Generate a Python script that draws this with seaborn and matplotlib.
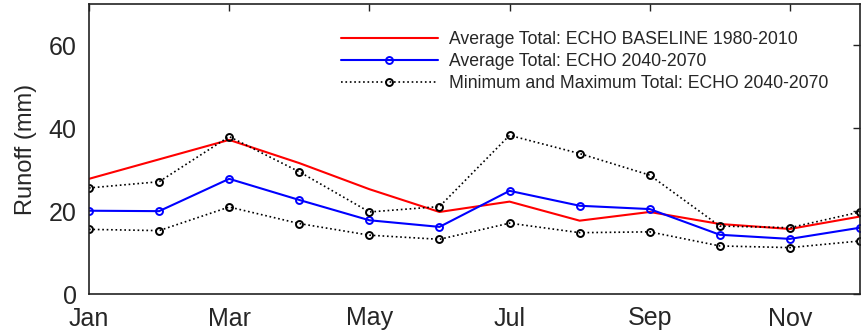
import numpy as np
import pandas as pd
import matplotlib
matplotlib.use("Agg")
import matplotlib.pyplot as plt
import seaborn as sns

months = ['Jan', 'Feb', 'Mar', 'Apr', 'May', 'Jun', 'Jul', 'Aug', 'Sep', 'Oct', 'Nov', 'Dec']
baseline = [27.8, 32.5, 37.2, 31.6, 25.3, 19.8, 22.3, 17.7, 19.8, 16.9, 15.7, 18.7]
future_avg = [20.1, 20.0, 27.8, 22.7, 17.8, 16.2, 24.9, 21.3, 20.5, 14.3, 13.3, 16.0]
future_max = [25.6, 27.1, 38.0, 29.5, 19.8, 21.1, 38.3, 33.9, 28.7, 16.4, 16.0, 19.8]
future_min = [15.6, 15.3, 21.0, 17.0, 14.2, 13.2, 17.1, 14.8, 15.0, 11.6, 11.2, 12.8]

df = pd.DataFrame({
    'month': np.arange(1, 13),
    'baseline': baseline,
    'avg': future_avg,
    'max': future_max,
    'min': future_min,
})

sns.set_theme(style='white')
plt.rcParams['font.family'] = ['Liberation Sans', 'DejaVu Sans']

fig = plt.figure(figsize=(8.61, 3.33), dpi=100)
ax = fig.add_axes([89 / 861, 1 - 294 / 333, 771 / 861, 290 / 333])

sns.lineplot(data=df, x='month', y='baseline', ax=ax, color='red', linewidth=1.5,
             label='Average Total: ECHO BASELINE 1980-2010')
sns.lineplot(data=df, x='month', y='avg', ax=ax, color='blue', linewidth=1.5,
             marker='o', markersize=5, markerfacecolor='none', markeredgecolor='blue',
             markeredgewidth=1.4, label='Average Total: ECHO 2040-2070')
sns.lineplot(data=df, x='month', y='max', ax=ax, color='black', linewidth=1.2, linestyle=':',
             marker='o', markersize=5, markerfacecolor='none', markeredgecolor='black',
             markeredgewidth=1.4, label='Minimum and Maximum Total: ECHO 2040-2070')
sns.lineplot(data=df, x='month', y='min', ax=ax, color='black', linewidth=1.2, linestyle=':',
             marker='o', markersize=5, markerfacecolor='none', markeredgecolor='black',
             markeredgewidth=1.4, label='_nolegend_')

ax.set_xlim(1, 12)
ax.set_ylim(0, 70)
ax.set_xticks([1, 3, 5, 7, 9, 11])
ax.set_xticklabels(['Jan', 'Mar', 'May', 'Jul', 'Sep', 'Nov'])
ax.set_yticks([0, 20, 40, 60])
ax.set_xlabel('')
ax.set_ylabel('Runoff (mm)', fontsize=17, labelpad=8)
ax.tick_params(axis='both', direction='in', length=5, width=1, labelsize=18,
               top=True, right=True, color='#222222', pad=9)
for s in ax.spines.values():
    s.set_linewidth(1.2)
    s.set_color('#222222')

ax.legend(loc='upper right', bbox_to_anchor=(0.979, 0.96), frameon=False, fontsize=12.7,
          handlelength=5.5, handletextpad=0.6, labelspacing=0.28)

fig.savefig('out.png', dpi=100)
